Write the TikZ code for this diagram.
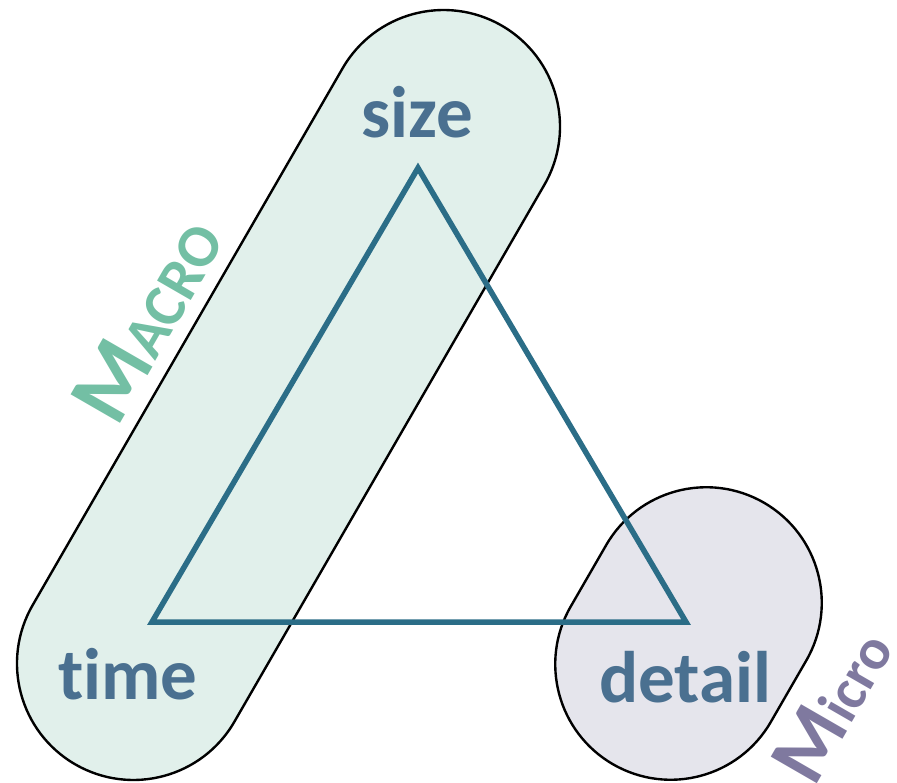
\documentclass[tikz,border=0pt]{standalone}
\usepackage{fontspec}
\setmainfont{Carlito}[Ligatures={NoCommon}]
\usetikzlibrary{shapes.misc}
\definecolor{macrofill}{HTML}{E1F0EB}
\definecolor{microfill}{HTML}{E5E5EC}
\definecolor{triblue}{HTML}{2B6D87}
\definecolor{lblblue}{HTML}{4A7090}
\definecolor{macrogreen}{HTML}{73BFA4}
\definecolor{micropurple}{HTML}{7F799F}
\tikzstyle{capsule}=[rounded rectangle,draw=black,line width=2.4pt,inner sep=0pt,rotate=60]
\tikzstyle{corner}=[font=\bfseries\fontsize{73}{73}\selectfont,text=lblblue,inner sep=0pt,anchor=base]
\tikzstyle{scaletxt}=[font=\bfseries,inner sep=0pt,rotate=60]
\tikzstyle{tri}=[draw=triblue,line width=5.5pt,line join=miter]

\begin{document}
\begin{tikzpicture}[x=1pt,y=-1pt]
\useasboundingbox (0,0) rectangle (897,783);
\node[capsule,fill=macrofill,minimum width=853pt,minimum height=233pt] (macrobox) at (288.5,395) {};
\node[capsule,fill=microfill,minimum width=302pt,minimum height=231pt] (microbox) at (688.5,633.5) {};
\coordinate (sz) at (418,168);
\coordinate (tm) at (152,622);
\coordinate (dt) at (686,622);
\draw[tri] (sz)--(tm)--(dt)--cycle;
\node[corner] (size) at (417,138) {size};
\node[corner] (time) at (128,699) {time};
\node[corner] (detail) at (685,702) {detail};
\node[scaletxt,text=macrogreen] (macro) at (147,320) {{\fontsize{88}{88}\selectfont M}{\fontsize{60}{60}\selectfont ACRO}};
\node[scaletxt,text=micropurple] (micro) at (832,705) {{\fontsize{82}{82}\selectfont M}{\fontsize{58}{58}\selectfont icro}};
\end{tikzpicture}
\end{document}
